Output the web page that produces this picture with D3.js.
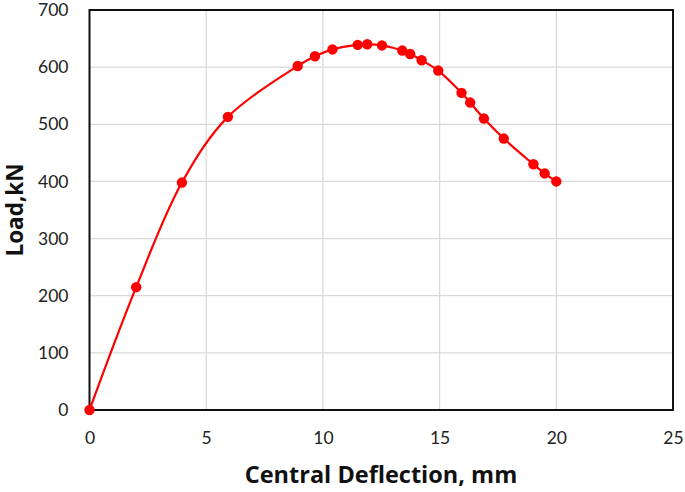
<!DOCTYPE html>
<html>
<head>
<meta charset="utf-8">
<script src="https://cdn.jsdelivr.net/npm/d3@7"></script>
<style>
  body { margin: 0; background: #fff; }
  .tick text { font-family: Lato, "Open Sans", sans-serif; }
</style>
</head>
<body>
<div id="chart"></div>
<script>
// deflection (mm) and load (kN)
var deflection = [0, 2, 3.96, 5.93, 8.92, 9.66, 10.41, 11.49, 11.9, 12.53, 13.4, 13.74, 14.23, 14.94, 15.94, 16.31, 16.9, 17.75, 19.02, 19.5, 20.0]
var load = [0, 215, 398, 513, 602, 619, 631, 639, 640, 638, 629, 623, 612, 594, 555, 538, 510, 475, 430, 414, 400]
var xTicks = [0, 5, 10, 15, 20, 25]
var yTicks = [0, 100, 200, 300, 400, 500, 600, 700]

var width = 685, height = 492
var margin = {top: 10, right: 12, bottom: 82, left: 89.5}
var plotW = width - margin.left - margin.right
var plotH = height - margin.top - margin.bottom

var svg = d3.select("#chart").append("svg")
  .attr("width", width)
  .attr("height", height)

var g = svg.append("g")
  .attr("transform", `translate(${margin.left},${margin.top})`)

var x = d3.scaleLinear().domain([0, 25]).range([0, plotW])
var y = d3.scaleLinear().domain([0, 700]).range([plotH, 0])

//gridlines
g.selectAll(".vgrid").data(xTicks).enter().append("line")
  .attr("x1", d => x(d)).attr("x2", d => x(d))
  .attr("y1", 0).attr("y2", plotH)
  .style("stroke", "#d9d9d9").style("stroke-width", 1.3)

g.selectAll(".hgrid").data(yTicks).enter().append("line")
  .attr("x1", 0).attr("x2", plotW)
  .attr("y1", d => y(d)).attr("y2", d => y(d))
  .style("stroke", "#d9d9d9").style("stroke-width", 1.3)

//axes (labels only, box drawn separately)
var xAxis = g.append("g")
  .attr("transform", `translate(0,${plotH})`)
  .call(d3.axisBottom(x).tickValues(xTicks).tickSize(0).tickPadding(22))
xAxis.select(".domain").remove()
xAxis.selectAll("text").style("font-size", "17.5px").style("fill", "#222")

var yAxis = g.append("g")
  .call(d3.axisLeft(y).tickValues(yTicks).tickSize(0).tickPadding(21))
yAxis.select(".domain").remove()
yAxis.selectAll("text").style("font-size", "17.5px").style("fill", "#222")

//plot border
g.append("rect")
  .attr("x", 0).attr("y", 0)
  .attr("width", plotW).attr("height", plotH)
  .style("fill", "none").style("stroke", "#111").style("stroke-width", 2)

var pts = deflection.map((d, i) => [d, load[i]])

var line = d3.line()
  .x(d => x(d[0])).y(d => y(d[1]))
  .curve(d3.curveCatmullRom.alpha(0.5))

g.append("path").datum(pts)
  .attr("d", line)
  .style("fill", "none").style("stroke", "#ff0000").style("stroke-width", 2.2)

g.selectAll("circle").data(pts).enter().append("circle")
  .attr("cx", d => x(d[0])).attr("cy", d => y(d[1]))
  .attr("r", 5.2)
  .style("fill", "#ff0000")

//axis titles
svg.append("text").text("Central Deflection, mm")
  .attr("x", 381).attr("y", 483)
  .attr("text-anchor", "middle")
  .style("font-family", "'Open Sans', sans-serif").style("font-weight", "bold")
  .style("font-size", "23.5px").style("fill", "#111")

svg.append("text").text("Load,kN")
  .attr("transform", "translate(23,210) rotate(-90)")
  .attr("text-anchor", "middle")
  .style("font-family", "'Open Sans', sans-serif").style("font-weight", "bold")
  .style("font-size", "22.5px").style("fill", "#111")
</script>
</body>
</html>
